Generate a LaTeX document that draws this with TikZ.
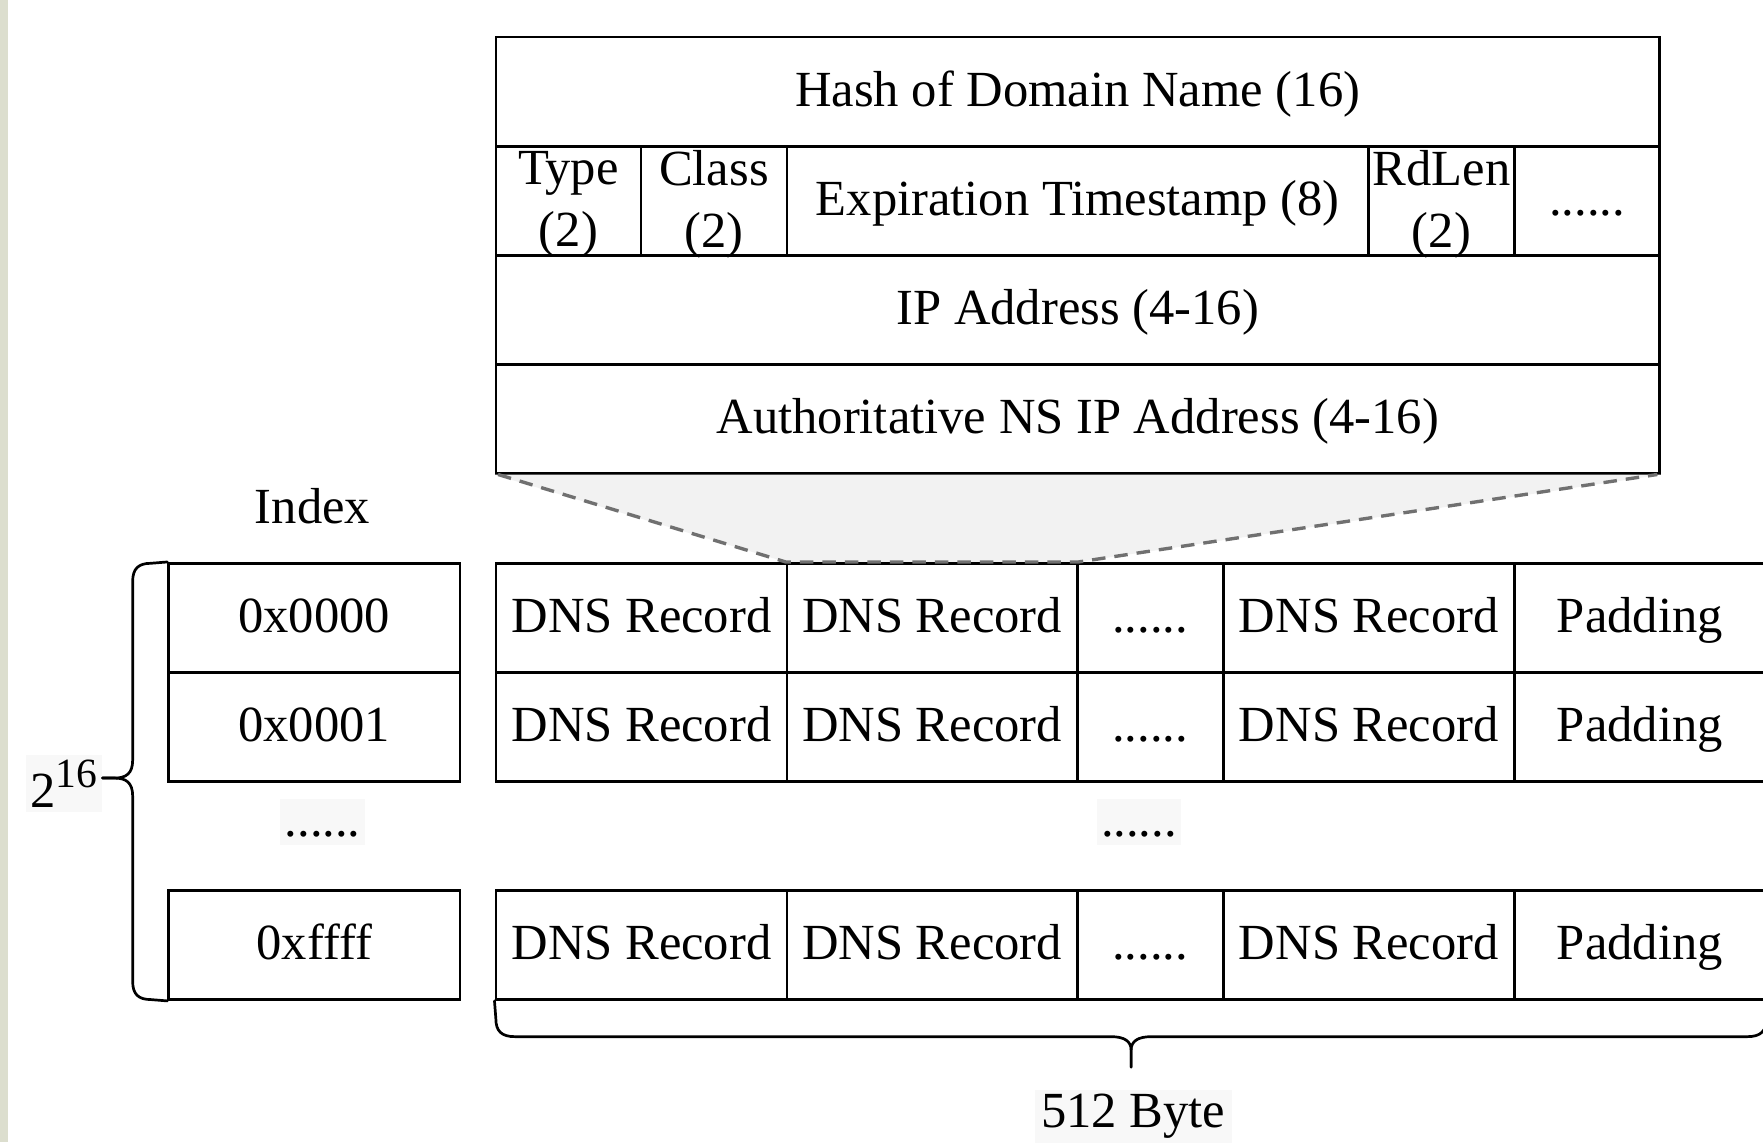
\documentclass[tikz,border=0pt]{standalone}
\usepackage{fontspec}
\setmainfont{Liberation Serif}
\definecolor{strip}{RGB}{220,222,206}
\definecolor{trap}{RGB}{242,242,242}
\definecolor{dashc}{RGB}{112,112,112}
\definecolor{faint}{RGB}{248,248,248}
\tikzset{
  cell/.style={draw, line width=1.2pt, inner sep=0pt, font=\fontsize{22.5}{27}\selectfont,
    text height=15pt, text depth=1.8pt},
  cellbox/.style={draw, line width=1.2pt, inner sep=0pt},
  twoline/.style={inner sep=0pt, align=center, font=\fontsize{22.5}{27.5}\selectfont, yshift=-1.5pt},
  lbl/.style={inner sep=0pt, font=\fontsize{22.5}{27}\selectfont},
  bgl/.style={fill=faint, inner sep=2pt, font=\fontsize{22.5}{27}\selectfont},
  bracel/.style={line width=1.2pt, line cap=round, line join=round},
  zoomline/.style={dashc, line width=1.5pt, dash pattern=on 6pt off 4pt}
}
\begin{document}
\begin{tikzpicture}[x=0.5pt,y=-0.5pt]
\useasboundingbox (0,0) rectangle (1568,1016);
\clip (0,0) rectangle (1568,1016);
\fill[white] (0,0) rectangle (1568,1016);
\fill[strip] (0,0) rectangle (7,1016);

% coordinates of the zoom trapezoid
\coordinate (tl) at (443,422);
\coordinate (tr) at (1474,422);

% top record layout
\node[cell, minimum width=517.5pt, minimum height=48.5pt] (hash) at (958.5,81.5) {Hash of Domain Name (16)};
\node[cellbox, minimum width=64.5pt, minimum height=48.5pt,
  label={[twoline]center:Type\\(2)}] (type) at (505.5,178.5) {};
\node[cellbox, minimum width=65pt, minimum height=48.5pt,
  label={[twoline]center:Class\\(2)}] (class) at (635,178.5) {};
\node[cell, minimum width=258.5pt, minimum height=48.5pt] (exp) at (958.5,178.5) {Expiration Timestamp (8)};
\node[cellbox, minimum width=65pt, minimum height=48.5pt,
  label={[twoline]center:RdLen\\(2)}] (rdlen) at (1282,178.5) {};
\node[cell, minimum width=64.5pt, minimum height=48.5pt] (more) at (1411.5,178.5) {......};
\node[cell, minimum width=517.5pt, minimum height=48.5pt] (ip) at (958.5,275.5) {IP Address (4-16)};
\node[cell, minimum width=517.5pt, minimum height=48.5pt] (auth) at (958.5,372.5) {Authoritative NS IP Address (4-16)};

% index column
\node[lbl] (index) at (278,450) {Index};
\node[cell, minimum width=129.5pt, minimum height=48.5pt] (i0) at (279.5,549.5) {0x0000};
\node[cell, minimum width=129.5pt, minimum height=48.5pt] (i1) at (279.5,646.5) {0x0001};
\node[bgl, text height=15pt, text depth=1.8pt] (idots) at (287,731) {......};
\node[cell, minimum width=129.5pt, minimum height=48.5pt] (iff) at (279.5,840.5) {0xffff};

% table rows
\foreach \r/\y in {a/549.5,b/646.5,c/840.5}{
  \node[cell, minimum width=129.5pt, minimum height=48.5pt] (\r1) at (570.5,\y) {DNS Record};
  \node[cell, minimum width=129pt, minimum height=48.5pt] (\r2) at (829,\y) {DNS Record};
  \node[cell, minimum width=65pt, minimum height=48.5pt] (\r3) at (1023,\y) {......};
  \node[cell, minimum width=129.5pt, minimum height=48.5pt] (\r4) at (1217.5,\y) {DNS Record};
  \node[cell, minimum width=111.5pt, minimum height=48.5pt] (\r5) at (1458.5,\y) {Padding};
}
\node[bgl, text height=15pt, text depth=1.8pt] (tdots) at (1013,731) {......};

% zoom trapezoid
\fill[trap] (auth.south west) -- (auth.south east) -- (a2.north east) -- (a2.north west) -- cycle;
\draw[zoomline] (tl) -- (a2.north west) -- (a2.north east) -- (tr);

% left brace
\node[bgl] (n216) at (57,697) {2\raisebox{9pt}{\fontsize{18.5}{18.5}\selectfont 16}};
\draw[bracel] (i0.north west) -- (134,501) .. controls (123,501) and (118,506) .. (118,517)
  -- (118,676) .. controls (118,688) and (112,692) .. (102,692) -- (n216.east |- 0,692);
\draw[bracel] (n216.east |- 0,692) -- (102,692) .. controls (112,692) and (118,696) .. (118,708)
  -- (118,873) .. controls (118,884) and (123,889) .. (134,889) -- (iff.south west);

% bottom brace
\node[bgl, inner xsep=3pt] (bytes) at (1008,993) {512 Byte};
\coordinate (btip) at (1006,949);
\draw[bracel] (c1.south west) -- (441,906) .. controls (441,917) and (446,922) .. (458,922)
  -- (988,922) .. controls (1000,922) and (1006,926) .. (1006,934) -- (btip);
\draw[bracel] (btip) -- (1006,934) .. controls (1006,926) and (1012,922) .. (1024,922)
  -- (1554,922) .. controls (1566,922) and (1571,917) .. (1571,906) -- (c5.south east);
\end{tikzpicture}
\end{document}
